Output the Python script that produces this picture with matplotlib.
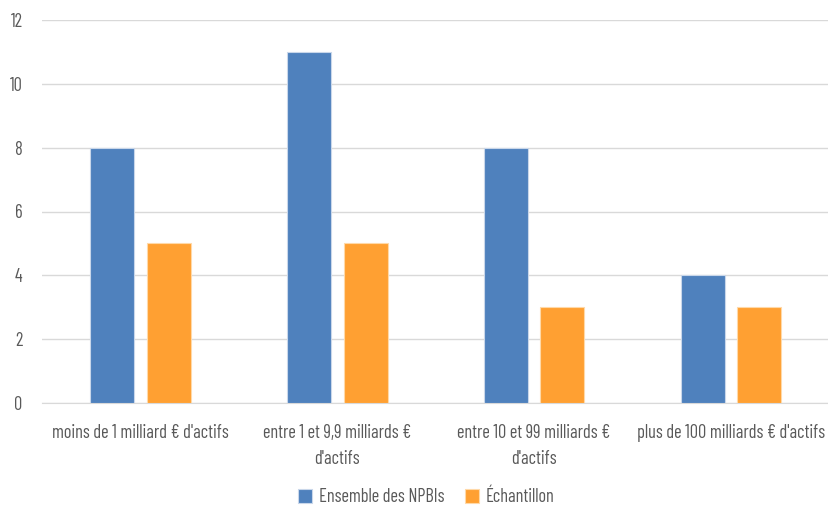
import matplotlib
matplotlib.use("Agg")
import matplotlib.pyplot as plt
import numpy as np

# Data ------------------------------------------------------------
categories = ["moins de 1 milliard € d'actifs",
              "entre 1 et 9,9 milliards €\nd'actifs",
              "entre 10 et 99 milliards €\nd'actifs",
              "plus de 100 milliards € d'actifs"]
ensemble = [8, 11, 8, 4]
echantillon = [5, 5, 3, 3]
series_names = ["Ensemble des NPBIs", "Échantillon"]

# Style -----------------------------------------------------------
plt.rcParams['font.family'] = ['Barlow Condensed', 'DejaVu Sans']
text_color = "#595959"
grid_color = "#D9D9D9"
fsize = 13.2

fig = plt.figure(figsize=(8.29, 5.07), dpi=100)
ax = fig.add_axes([42/829, 1-403/507, 787/829, 383/507])

x = np.arange(len(categories))
w = 0.223
ax.bar(x - 0.142, ensemble, w, color="#4F81BD", edgecolor="#C9D7EA", linewidth=0.8,
       label=series_names[0], zorder=3)
ax.bar(x + 0.145, echantillon, w, color="#FFA032", edgecolor="#FFD9A8", linewidth=0.8,
       label=series_names[1], zorder=3)

ax.set_xlim(-0.5, len(categories) - 0.5)
ax.set_ylim(0, 12)
ax.set_yticks(np.arange(0, 13, 2))
ax.yaxis.grid(True, color=grid_color, linewidth=1.0, zorder=0)
ax.set_axisbelow(True)
for s in ['top', 'right', 'left']:
    ax.spines[s].set_visible(False)
ax.spines['bottom'].set_color(grid_color)
ax.tick_params(axis='both', length=0, colors=text_color, labelsize=fsize)
ax.tick_params(axis='y', pad=14)
ax.tick_params(axis='x', pad=15)
ax.set_xticks(x)
ax.set_xticklabels(categories, linespacing=1.6)

fig.legend(loc='center', bbox_to_anchor=(0.514, 1-497/507), ncol=2, frameon=False,
           fontsize=fsize, labelcolor=text_color, handlelength=0.8, handleheight=0.8,
           handletextpad=0.35, columnspacing=1.1, borderpad=0)

fig.savefig("out.png", dpi=100)
